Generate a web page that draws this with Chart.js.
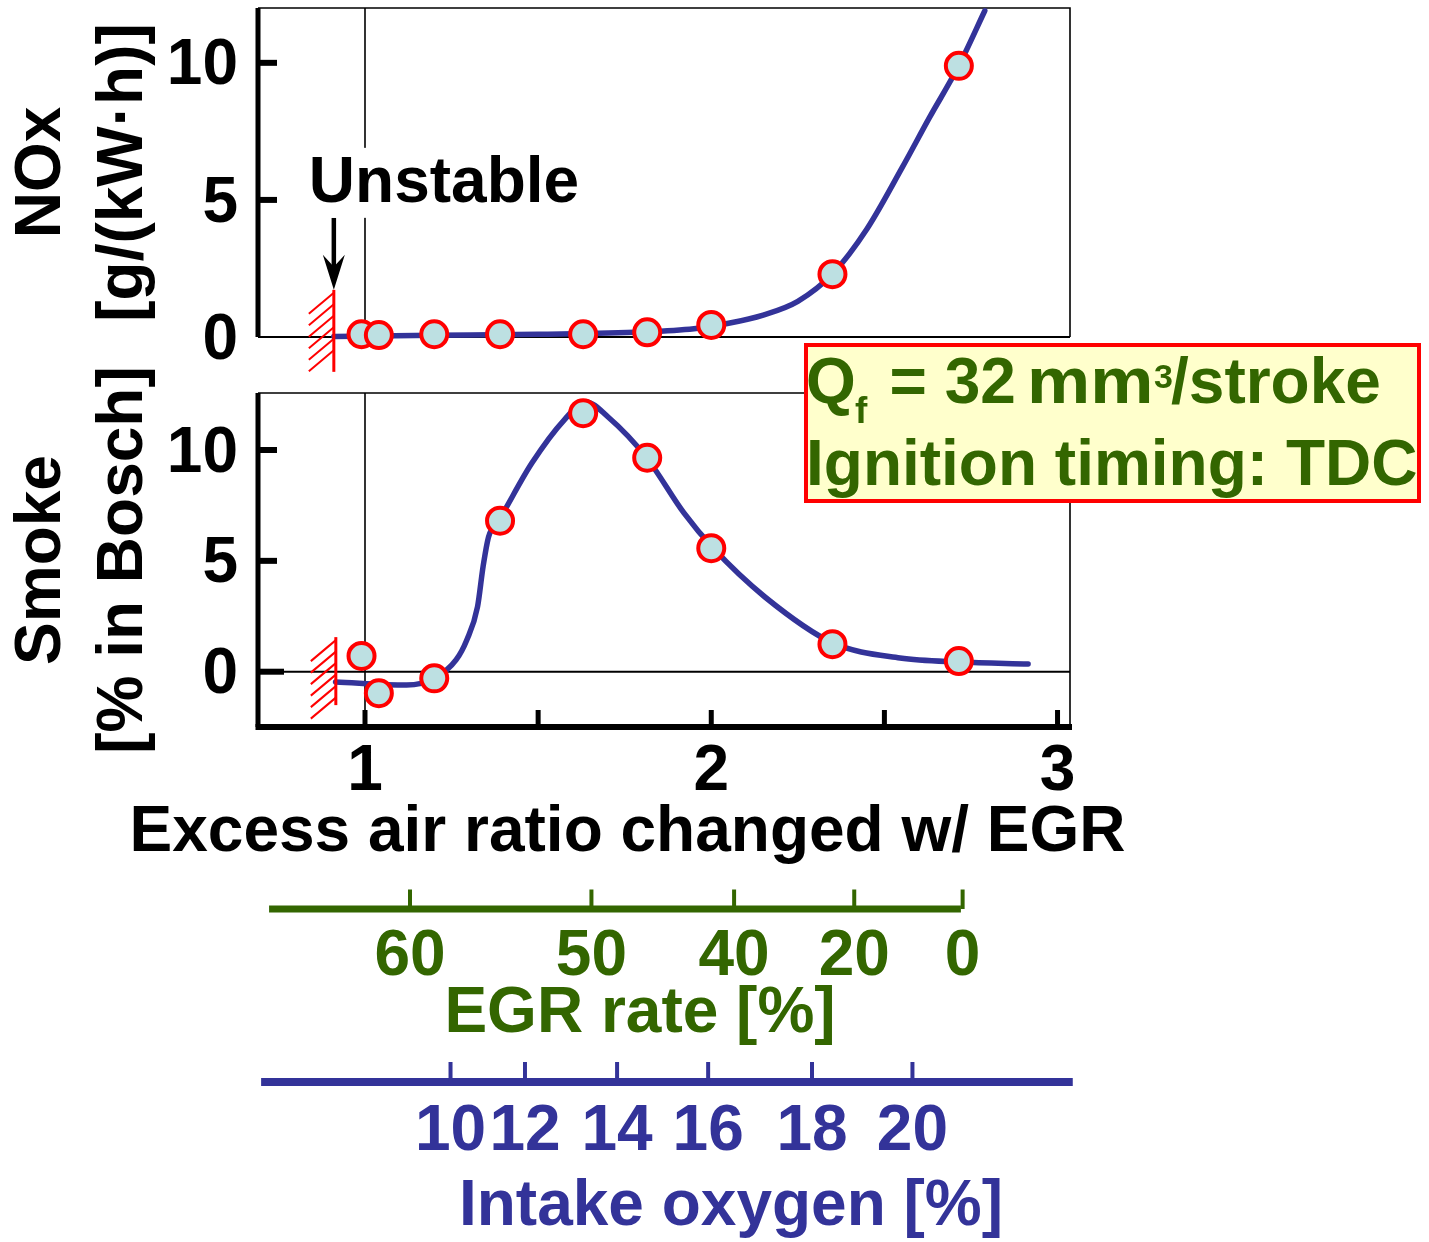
<!DOCTYPE html>
<html>
<head>
<meta charset="utf-8">
<title>NOx and smoke vs. excess air ratio with EGR</title>
<script src="https://cdn.jsdelivr.net/npm/chart.js@4.4.1/dist/chart.umd.min.js"></script>
<style>
  html, body { margin: 0; padding: 0; background: #fff; }
  #wrap { position: relative; width: 1429px; height: 1242px; overflow: hidden; }
  #wrap canvas { position: absolute; left: 0; top: 0; }
</style>
</head>
<body>
<div id="wrap">
  <canvas id="noxChart" width="1429" height="1242"></canvas>
  <canvas id="smokeChart" width="1429" height="1242"></canvas>
  <canvas id="egrAxis" width="1429" height="1242"></canvas>
  <canvas id="oxygenAxis" width="1429" height="1242"></canvas>
</div>
<script>
// ---- measured operating points (excess air ratio varied with EGR) ----
const excessAir   = [0.99, 1.04, 1.20, 1.39, 1.63, 1.815, 2.00, 2.35, 2.715];
const noxValues   = [0.10, 0.07, 0.10, 0.10, 0.10, 0.17, 0.44, 2.29, 9.89];
const smokeValues = [0.71, -0.97, -0.30, 6.81, 11.66, 9.65, 5.57, 1.24, 0.48];

// ---- trend curves drawn through the measurements ----
const noxTrendX   = [0.91, 1.2, 1.5, 1.8, 1.95, 2.05, 2.15, 2.25, 2.35, 2.45, 2.55, 2.63, 2.715, 2.79];
const noxTrendY   = [0.02, 0.06, 0.10, 0.18, 0.30, 0.50, 0.80, 1.30, 2.30, 3.95, 6.15, 8.00, 9.90, 11.90];
const smokeTrendX = [0.915, 1.12, 1.20, 1.263, 1.294, 1.325, 1.341, 1.357, 1.387, 1.482, 1.575, 1.638, 1.702, 1.812, 1.921, 2.005, 2.155, 2.352, 2.545, 2.718, 2.915];
const smokeTrendY = [-0.46, -0.60, -0.30, 0.53, 1.43, 2.93, 4.74, 6.09, 6.84, 9.41, 11.35, 12.17, 11.49, 9.68, 7.16, 5.58, 3.37, 1.29, 0.62, 0.44, 0.35];

// ---- axis ticks ----
const panelTicks     = [0, 5, 10];
const excessAirTicks = [1, 1.5, 2, 2.5, 3];
const egrLabels      = [60, 50, 40, 20, 0];
const egrAtExcessAir = [1.13, 1.654, 2.066, 2.413, 2.726];
const egrAxisSpan    = [0.723, 2.721];
const oxygenLabels      = [10, 12, 14, 16, 18, 20];
const oxygenAtExcessAir = [1.247, 1.462, 1.728, 1.991, 2.291, 2.581];
const oxygenAxisSpan    = [0.700, 3.044];

// stable-combustion limit (hatched wall) and its extent in each panel
const unstableLimit = 0.91;
const noxHatchTop   = 1.72;
const smokeHatchTop = 1.56;

// ---- styling ----
const FONT = '"Liberation Sans", Arial, Helvetica, sans-serif';
const TXT = 64;
const BLUE = '#333399', GREEN = '#336600', RED = '#ff0000';
const MARKER = '#bde0e2', BOXFILL = '#ffffcc';

Chart.defaults.font.family = FONT;
Chart.defaults.font.weight = 'bold';
Chart.defaults.color = '#000';
Chart.defaults.animation = false;

function seg(ctx, pts, width, color, cap) {
  ctx.save();
  ctx.beginPath();
  pts.forEach(([px, py], i) => (i ? ctx.lineTo(px, py) : ctx.moveTo(px, py)));
  ctx.lineWidth = width;
  ctx.strokeStyle = color;
  ctx.lineCap = cap || 'butt';
  ctx.stroke();
  ctx.restore();
}

function xy(xs, ys) { return xs.map((x, i) => ({ x, y: ys[i] })); }

function trendDataset(xs, ys) {
  return {
    data: xy(xs, ys), showLine: true, borderColor: BLUE, borderWidth: 5.5,
    pointRadius: 0, pointHoverRadius: 0, cubicInterpolationMode: 'monotone',
    borderCapStyle: 'round', borderJoinStyle: 'round', clip: false, order: 2
  };
}

function pointDataset(ys) {
  return {
    data: xy(excessAir, ys), showLine: false, pointRadius: 13, pointHoverRadius: 13,
    pointBackgroundColor: MARKER, pointBorderColor: RED, pointBorderWidth: 4,
    clip: false, order: 1
  };
}

function tickFont() { return { size: TXT, weight: 'bold', lineHeight: 1 }; }

function panelYAxis(min, max, title) {
  return {
    type: 'linear', min, max, position: 'left',
    afterBuildTicks: s => { s.ticks = panelTicks.map(v => ({ value: v })); },
    afterFit: s => { s.width = 258; s.paddingTop = 0; s.paddingBottom = 0; },
    grid: { display: false, drawTicks: false },
    border: { display: false },
    ticks: { font: tickFont(), color: '#000', padding: 20, labelOffset: 4, autoSkip: false },
    title: {
      display: true, text: title, color: '#000',
      font: { size: TXT, weight: 'bold', lineHeight: 1.29 }, padding: { top: 1, bottom: 0 }
    }
  };
}

function drawHatch(ctx, px, topY, length) {
  seg(ctx, [[px, topY], [px, topY + length]], 3, RED);
  for (let i = 0; i < 6; i++) {
    const yy = topY + 3 + i * 11.5;
    seg(ctx, [[px, yy], [px - 25, yy + 21]], 2, RED);
  }
}

function drawPanelFrame(ctx, a, xScale) {
  seg(ctx, [[a.left, a.top], [a.right, a.top], [a.right, a.bottom]], 1.6, '#000');
  const x1 = xScale.getPixelForValue(1);
  seg(ctx, [[x1, a.top], [x1, a.bottom]], 1.6, '#000');
}

// ---------------- NOx panel ----------------
const noxDecor = {
  id: 'noxDecor',
  beforeDatasetsDraw(chart) {
    const { ctx, chartArea: a, scales: { x, y } } = chart;
    drawPanelFrame(ctx, a, x);
    seg(ctx, [[a.left, a.bottom], [a.right, a.bottom]], 2, '#000');
    seg(ctx, [[a.left, a.top], [a.left, a.bottom]], 5, '#000');
    [5, 10].forEach(v => {
      const py = y.getPixelForValue(v);
      seg(ctx, [[a.left, py], [a.left + 19, py]], 6, '#000');
    });
  },
  afterDatasetsDraw(chart) {
    const { ctx, scales: { x, y } } = chart;
    const ux = x.getPixelForValue(unstableLimit);
    const tipY = y.getPixelForValue(noxHatchTop);
    drawHatch(ctx, ux, tipY, 82);

    // arrow pointing at the limit
    seg(ctx, [[ux, tipY - 72], [ux, tipY - 22]], 4.5, '#000');
    ctx.save();
    ctx.fillStyle = '#000';
    ctx.beginPath();
    ctx.moveTo(ux, tipY);
    ctx.lineTo(ux - 11, tipY - 35);
    ctx.lineTo(ux, tipY - 23);
    ctx.lineTo(ux + 11, tipY - 35);
    ctx.closePath();
    ctx.fill();

    // label with a white backing over the reference line
    ctx.fillStyle = '#fff';
    ctx.fillRect(ux - 26, tipY - 142, 282, 70);
    ctx.fillStyle = '#000';
    ctx.font = `bold ${TXT}px ${FONT}`;
    ctx.textAlign = 'left';
    ctx.textBaseline = 'alphabetic';
    ctx.fillText('Unstable', ux - 25, tipY - 88);
    ctx.restore();
  }
};

new Chart(document.getElementById('noxChart'), {
  type: 'scatter',
  data: { datasets: [trendDataset(noxTrendX, noxTrendY), pointDataset(noxValues)] },
  options: {
    responsive: false, events: [],
    layout: { autoPadding: false, padding: { left: 0, top: 8, right: 359, bottom: 905 } },
    plugins: { legend: { display: false }, tooltip: { enabled: false } },
    scales: {
      x: { type: 'linear', min: 0.691, max: 3.036, display: false },
      y: panelYAxis(0, 12.0, ['NOx', '[g/(kW\u00B7h)]'])
    }
  },
  plugins: [noxDecor]
});

// ---------------- Smoke panel ----------------
function drawNote(ctx) {
  ctx.save();
  ctx.fillStyle = BOXFILL;
  ctx.fillRect(806, 345, 613, 156);
  ctx.strokeStyle = RED;
  ctx.lineWidth = 4;
  ctx.strokeRect(806, 345, 613, 156);

  const big = `bold ${TXT}px ${FONT}`;
  const sub = `bold 37px ${FONT}`;
  const sup = `bold 34px ${FONT}`;
  ctx.fillStyle = GREEN;
  ctx.textAlign = 'left';
  ctx.textBaseline = 'alphabetic';
  const base = 403;
  // first line: [text, font, x, baseline shift, horizontal stretch]
  const parts = [
    ['Q', big, 806, 0, 1], ['f', sub, 855, 20, 1], ['= 32', big, 889.5, 0, 1],
    ['mm', big, 1027, 0, 1.11], ['3', sup, 1154, -15, 1], ['/stroke', big, 1171, 0, 1]
  ];
  parts.forEach(([t, f, px, dy, sx]) => {
    ctx.save();
    ctx.font = f;
    ctx.translate(px, base + dy);
    ctx.scale(sx, 1);
    ctx.fillText(t, 0, 0);
    ctx.restore();
  });
  ctx.font = big;
  ctx.fillText('Ignition timing: TDC', 806, 485);
  ctx.restore();
}

const smokeDecor = {
  id: 'smokeDecor',
  beforeDatasetsDraw(chart) {
    const { ctx, chartArea: a, scales: { x, y } } = chart;
    drawPanelFrame(ctx, a, x);
    const y0 = y.getPixelForValue(0);
    seg(ctx, [[a.left, y0], [a.right, y0]], 2, '#000');
    seg(ctx, [[a.left, a.top], [a.left, a.bottom]], 5, '#000');
    panelTicks.forEach(v => {
      const py = y.getPixelForValue(v);
      seg(ctx, [[a.left, py], [a.left + (v === 0 ? 26 : 19), py]], 6, '#000');
    });
    seg(ctx, [[a.left - 2.5, a.bottom], [a.right + 2, a.bottom]], 6, '#000');
    excessAirTicks.forEach(v => {
      const px = x.getPixelForValue(v);
      seg(ctx, [[px, a.bottom], [px, a.bottom - 17]], 5, '#000');
    });
  },
  afterDatasetsDraw(chart) {
    const { ctx, scales: { x, y } } = chart;
    drawHatch(ctx, x.getPixelForValue(unstableLimit) + 2, y.getPixelForValue(smokeHatchTop), 68);
    drawNote(ctx);
    ctx.save();
    ctx.fillStyle = '#000';
    ctx.font = `bold ${TXT}px ${FONT}`;
    ctx.textAlign = 'center';
    ctx.textBaseline = 'alphabetic';
    ctx.fillText('Excess air ratio changed w/ EGR', 627.5, 851);
    ctx.restore();
  }
};

new Chart(document.getElementById('smokeChart'), {
  type: 'scatter',
  data: { datasets: [trendDataset(smokeTrendX, smokeTrendY), pointDataset(smokeValues)] },
  options: {
    responsive: false, events: [],
    layout: { autoPadding: false, padding: { left: 0, top: 393, right: 359, bottom: 375 } },
    plugins: { legend: { display: false }, tooltip: { enabled: false } },
    scales: {
      x: {
        type: 'linear', min: 0.691, max: 3.036, position: 'bottom',
        afterBuildTicks: s => { s.ticks = excessAirTicks.map(v => ({ value: v })); },
        afterFit: s => { s.height = 140; s.paddingLeft = 0; s.paddingRight = 0; },
        grid: { display: false, drawTicks: false }, border: { display: false },
        ticks: {
          font: tickFont(), color: '#000', padding: 13, autoSkip: false, maxRotation: 0, minRotation: 0,
          callback: v => (Number.isInteger(v) ? String(v) : '')
        }
      },
      y: panelYAxis(-2.494, 12.571, ['Smoke', '[% in Bosch]'])
    }
  },
  plugins: [smokeDecor]
});

// ---------------- secondary scales: EGR rate and intake oxygen ----------------
function secondaryAxis(canvasId, opts) {
  const decor = {
    id: 'secondaryDecor',
    afterDraw(chart) {
      const { ctx, chartArea: a, scales: { x } } = chart;
      seg(ctx, [[x.getPixelForValue(opts.span[0]), a.bottom], [x.getPixelForValue(opts.span[1]), a.bottom]], opts.lineWidth, opts.color);
      opts.at.forEach(v => {
        const px = x.getPixelForValue(v);
        seg(ctx, [[px, a.bottom], [px, a.bottom - opts.lineWidth / 2 - 16]], 4, opts.color);
      });
    }
  };
  return new Chart(document.getElementById(canvasId), {
    type: 'scatter',
    data: { datasets: [] },
    options: {
      responsive: false, events: [],
      layout: { autoPadding: false, padding: opts.padding },
      plugins: { legend: { display: false }, tooltip: { enabled: false } },
      scales: {
        x: {
          type: 'linear', min: opts.min, max: opts.max, position: 'bottom',
          afterBuildTicks: s => { s.ticks = opts.at.map(v => ({ value: v })); },
          afterFit: s => { s.height = opts.height; s.paddingLeft = 0; s.paddingRight = 0; },
          grid: { display: false, drawTicks: false }, border: { display: false },
          ticks: {
            font: tickFont(), color: opts.color, padding: opts.tickPadding,
            autoSkip: false, maxRotation: 0, minRotation: 0,
            callback: (v, i) => String(opts.labels[i])
          },
          title: {
            display: true, text: opts.title, color: opts.color,
            font: { size: TXT, weight: 'bold', lineHeight: 1 }, padding: { top: 0, bottom: 0 }
          }
        },
        y: { display: false, min: 0, max: 1 }
      }
    },
    plugins: [decor]
  });
}

secondaryAxis('egrAxis', {
  min: 0.691, max: 2.8975, at: egrAtExcessAir, labels: egrLabels, span: egrAxisSpan,
  title: 'EGR rate [%]', color: GREEN, lineWidth: 7, height: 137, tickPadding: 16,
  padding: { left: 258, top: 860, right: 407, bottom: 196 }
});

secondaryAxis('oxygenAxis', {
  min: 0.691, max: 3.423, at: oxygenAtExcessAir, labels: oxygenLabels, span: oxygenAxisSpan,
  title: 'Intake oxygen [%]', color: BLUE, lineWidth: 8, height: 157, tickPadding: 18.5,
  padding: { left: 258, top: 1030, right: 225, bottom: 3 }
});
</script>
</body>
</html>
